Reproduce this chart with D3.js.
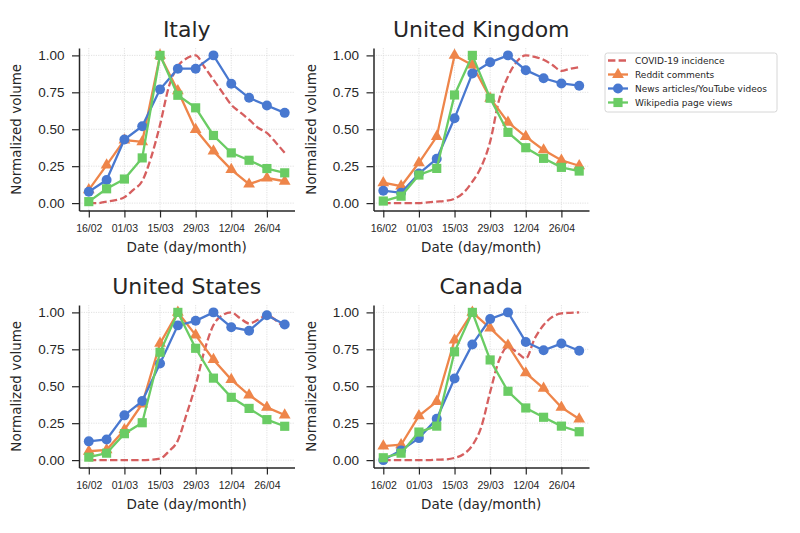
<!DOCTYPE html>
<head>
<meta charset="utf-8">
<script src="https://d3js.org/d3.v7.min.js"></script>
<style>
  body { margin: 0; background: #fff; }
  svg { font-family: "DejaVu Sans", sans-serif; }
  .axis path, .axis line { stroke: #262626; }
  .axis text { fill: #262626; }
</style>
</head>
<body>
<svg id="chart" width="800" height="533"></svg>
<script>
// weekly dates (day/month)
var weeks = ["16/02","23/02","01/03","08/03","15/03","22/03","29/03","05/04","12/04","19/04","26/04","03/05"];
var tickWeeks = [0, 2, 4, 6, 8, 10];
var yTicks = [0, 0.25, 0.5, 0.75, 1];

var countries = ["Italy", "United Kingdom", "United States", "Canada"];

// weekly normalized volumes
var redditItaly = [0.09,0.257,0.427,0.415,1.0,0.76,0.498,0.352,0.227,0.128,0.17,0.148];
var newsItaly   = [0.077,0.156,0.43,0.52,0.77,0.91,0.91,1.0,0.808,0.713,0.661,0.611];
var wikiItaly   = [0.01,0.097,0.163,0.306,1.0,0.73,0.645,0.458,0.34,0.29,0.234,0.205];

var redditUK = [0.138,0.115,0.273,0.45,1.0,0.935,0.71,0.547,0.45,0.36,0.29,0.253];
var newsUK   = [0.084,0.07,0.2,0.30,0.574,0.878,0.953,1.0,0.90,0.845,0.81,0.795];
var wikiUK   = [0.014,0.047,0.19,0.235,0.732,1.0,0.71,0.479,0.375,0.303,0.242,0.217];

var redditUS = [0.06,0.07,0.206,0.38,0.79,1.0,0.846,0.68,0.545,0.44,0.357,0.305];
var newsUS   = [0.127,0.14,0.303,0.40,0.654,0.912,0.943,1.0,0.9,0.876,0.98,0.918];
var wikiUS   = [0.02,0.047,0.179,0.253,0.73,1.0,0.757,0.555,0.425,0.35,0.274,0.229];

var redditCA = [0.095,0.104,0.30,0.396,0.812,1.0,0.893,0.778,0.59,0.486,0.357,0.278];
var newsCA   = [0.0,0.066,0.149,0.28,0.552,0.783,0.955,1.0,0.80,0.744,0.789,0.74];
var wikiCA   = [0.016,0.047,0.19,0.23,0.733,1.0,0.678,0.466,0.353,0.29,0.23,0.192];

// COVID-19 incidence, read every half week
var covidItaly = [0,0,0.01,0.02,0.04,0.09,0.15,0.31,0.53,0.79,0.925,0.98,1.0,0.92,0.835,0.75,0.665,0.615,0.565,0.51,0.475,0.41,0.34];
var covidUK    = [0,0,0,0,0,0.005,0.01,0.015,0.03,0.07,0.145,0.246,0.416,0.698,0.857,0.958,1.0,0.99,0.97,0.935,0.895,0.91,0.92];
var covidUS    = [0,0,0,0,0,0,0,0.003,0.01,0.06,0.133,0.315,0.507,0.744,0.914,0.98,1.0,0.96,0.925,0.95,0.98,0.947,0.89];
var covidCA    = [0,0,0,0,0,0,0.003,0.005,0.015,0.04,0.1,0.224,0.461,0.676,0.766,0.73,0.688,0.823,0.914,0.97,0.993,0.997,1.0];

var colors = { covid: "#d65f5f", reddit: "#ee854a", news: "#4878d0", wiki: "#6acc64" };

var panels = [
  { name: countries[0], covid: covidItaly, reddit: redditItaly, news: newsItaly, wiki: wikiItaly },
  { name: countries[1], covid: covidUK, reddit: redditUK, news: newsUK, wiki: wikiUK },
  { name: countries[2], covid: covidUS, reddit: redditUS, news: newsUS, wiki: wikiUS },
  { name: countries[3], covid: covidCA, reddit: redditCA, news: newsCA, wiki: wikiCA }
];

var lefts = [79, 373.5], tops = [48, 305];
var W = 215.5, H = 162.5;

var svg = d3.select("#chart");

var x = d3.scaleLinear().domain([-0.55, 11.55]).range([0, W]);
var y = d3.scaleLinear().domain([-0.05, 1.05]).range([H, 0]);

var line = d3.line().x(function(d, i) { return x(i); }).y(function(d) { return y(d); });
var halfLine = d3.line().x(function(d, i) { return x(i / 2); }).y(function(d) { return y(d); })
    .curve(d3.curveMonotoneX);

var triangle = d3.symbol().type(d3.symbolTriangle).size(60);
var circle = d3.symbol().type(d3.symbolCircle).size(78);
var square = d3.symbol().type(d3.symbolSquare).size(84);

panels.forEach(function(p, k) {
  var g = svg.append("g")
      .attr("transform", "translate(" + lefts[k % 2] + "," + tops[Math.floor(k / 2)] + ")");

  // grid
  g.selectAll(".gx").data(tickWeeks).enter().append("line")
      .attr("x1", function(d) { return x(d); }).attr("x2", function(d) { return x(d); })
      .attr("y1", 0).attr("y2", H)
      .attr("stroke", "#d4d4d4").attr("stroke-width", 0.7).attr("stroke-dasharray", "1.2,1.2");
  g.selectAll(".gy").data(yTicks).enter().append("line")
      .attr("x1", 0).attr("x2", W)
      .attr("y1", function(d) { return y(d); }).attr("y2", function(d) { return y(d); })
      .attr("stroke", "#d4d4d4").attr("stroke-width", 0.7).attr("stroke-dasharray", "1.2,1.2");

  // axes
  var ya = g.append("g").attr("class", "axis")
      .call(d3.axisLeft(y).tickValues(yTicks).tickFormat(d3.format(".2f"))
        .tickSize(7).tickSizeOuter(0).tickPadding(7.5));
  ya.select(".domain").attr("stroke-width", 1.5);
  ya.selectAll("line").attr("stroke-width", 1.2);
  ya.selectAll("text").attr("font-size", "13.5px");

  var xa = g.append("g").attr("class", "axis").attr("transform", "translate(0," + H + ")")
      .call(d3.axisBottom(x).tickValues(tickWeeks).tickFormat(function(i) { return weeks[i]; })
        .tickSize(7).tickSizeOuter(0).tickPadding(7.5));
  xa.select(".domain").attr("stroke-width", 1.5);
  xa.selectAll("line").attr("stroke-width", 1.2);
  xa.selectAll("text").attr("font-size", "10.5px");

  // titles and labels
  g.append("text").attr("x", W / 2).attr("y", -11).attr("text-anchor", "middle")
      .attr("font-size", "22px").attr("fill", "#262626").text(p.name);
  g.append("text").attr("transform", "translate(-58," + (H / 2) + ") rotate(-90)")
      .attr("text-anchor", "middle").attr("font-size", "13.5px").attr("fill", "#262626")
      .text("Normalized volume");
  g.append("text").attr("x", W / 2).attr("y", H + 41.5).attr("text-anchor", "middle")
      .attr("font-size", "13.5px").attr("fill", "#262626").text("Date (day/month)");

  // series
  g.append("path").datum(p.covid).attr("d", halfLine)
      .attr("fill", "none").attr("stroke", colors.covid).attr("stroke-width", 2.3)
      .attr("stroke-dasharray", "7.4,3.2");

  [["reddit", triangle], ["news", circle], ["wiki", square]].forEach(function(s) {
    var key = s[0];
    g.append("path").datum(p[key]).attr("d", line)
        .attr("fill", "none").attr("stroke", colors[key]).attr("stroke-width", 2.3);
    g.selectAll(".m-" + key).data(p[key]).enter().append("path")
        .attr("transform", function(d, i) { return "translate(" + x(i) + "," + y(d) + ")"; })
        .attr("d", s[1]).attr("fill", colors[key]);
  });
});

// legend
var legendItems = [
  { label: "COVID-19 incidence", key: "covid", sym: null },
  { label: "Reddit comments", key: "reddit", sym: triangle },
  { label: "News articles/YouTube videos", key: "news", sym: circle },
  { label: "Wikipedia page views", key: "wiki", sym: square }
];
var lg = svg.append("g").attr("transform", "translate(605,53)");
lg.append("rect").attr("width", 172).attr("height", 59).attr("rx", 2.5)
    .attr("fill", "#fff").attr("stroke", "#cccccc").attr("stroke-width", 0.8);
legendItems.forEach(function(d, i) {
  var row = lg.append("g").attr("transform", "translate(0," + (7.5 + i * 14) + ")");
  var ln = row.append("line").attr("x1", 3).attr("x2", 23).attr("y1", 0).attr("y2", 0)
      .attr("stroke", colors[d.key]).attr("stroke-width", 2.3);
  if (d.key === "covid") ln.attr("stroke-dasharray", "7.4,3.2");
  if (d.sym) row.append("path").attr("transform", "translate(13,0)").attr("d", d.sym).attr("fill", colors[d.key]);
  row.append("text").attr("x", 30).attr("y", 0).attr("dy", "0.35em")
      .attr("font-size", "9px").attr("fill", "#262626").text(d.label);
});
</script>
</body>
